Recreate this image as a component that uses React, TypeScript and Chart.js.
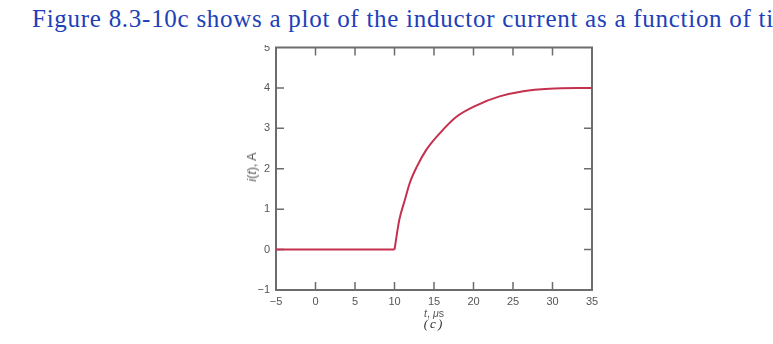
import React, { useEffect, useRef } from 'react';
import { Chart, registerables } from 'chart.js';

Chart.register(...registerables);

// Flat part before the switch (t in µs, i in A)
const flatTimes = [-5, 10];
const flatCurrent = [0, 0];
// Rising part after the switch
const riseTimes = [10, 10.6, 11.3, 11.9, 12.8, 14.0, 15.7, 17.8, 20.4, 23.3, 26.3, 29.6, 35];
const riseCurrent = [0, 0.73, 1.22, 1.63, 2.04, 2.46, 2.87, 3.28, 3.57, 3.79, 3.92, 3.98, 4.0];

const xTickValues = [-5, 0, 5, 10, 15, 20, 25, 30, 35];
const yTickValues = [-1, 0, 1, 2, 3, 4, 5];

const headingText = 'Figure 8.3-10c shows a plot of the inductor current as a function of time.';

const frameColor = '#6c6c6c';
const labelColor = '#555555';
const curveColor = '#c4304e';

const fmt = (v: number) => (v < 0 ? '\u2212' + Math.abs(v) : String(v));

const frameTicksPlugin = {
  id: 'frameTicks',
  beforeDatasetsDraw(chart: any) {
    const { ctx, chartArea, scales } = chart;
    const { left, right, top, bottom } = chartArea;
    const x = scales.x;
    const y = scales.y;
    const len = 8;
    ctx.save();
    ctx.strokeStyle = frameColor;
    ctx.lineWidth = 1.5;
    ctx.beginPath();
    xTickValues.slice(1, -1).forEach((v) => {
      const px = x.getPixelForValue(v);
      ctx.moveTo(px, bottom);
      ctx.lineTo(px, bottom - len);
      ctx.moveTo(px, top);
      ctx.lineTo(px, top + len);
    });
    yTickValues.slice(1, -1).forEach((v) => {
      const py = y.getPixelForValue(v);
      ctx.moveTo(left, py);
      ctx.lineTo(left + len, py);
      ctx.moveTo(right, py);
      ctx.lineTo(right - len, py);
    });
    ctx.stroke();
    ctx.lineWidth = 2;
    ctx.strokeRect(left, top, right - left, bottom - top);
    ctx.restore();
  },
};

export default function App() {
  const canvasRef = useRef<HTMLCanvasElement | null>(null);

  useEffect(() => {
    document.body.style.margin = '0';
    const canvas = canvasRef.current;
    if (!canvas) return;
    const tickFont = { family: "'Liberation Sans', Arial, sans-serif", size: 11 };
    const chart = new Chart(canvas, {
      type: 'line',
      data: {
        datasets: [
          {
            data: flatTimes.map((t, i) => ({ x: t, y: flatCurrent[i] })),
            borderColor: curveColor,
            borderWidth: 2,
            pointRadius: 0,
            tension: 0,
          },
          {
            data: riseTimes.map((t, i) => ({ x: t, y: riseCurrent[i] })),
            borderColor: curveColor,
            borderWidth: 2,
            pointRadius: 0,
            cubicInterpolationMode: 'monotone',
          },
        ],
      },
      options: {
        responsive: false,
        animation: false,
        devicePixelRatio: 1,
        layout: { padding: { left: 0, right: 181, top: 47.5, bottom: 0 } },
        plugins: { legend: { display: false }, tooltip: { enabled: false } },
        scales: {
          x: {
            type: 'linear',
            min: -5,
            max: 35,
            afterFit: (s: any) => {
              s.height = 54;
            },
            afterBuildTicks: (s: any) => {
              s.ticks = xTickValues.map((v) => ({ value: v }));
            },
            grid: { display: false, drawTicks: false },
            border: { display: false },
            ticks: {
              color: labelColor,
              font: tickFont,
              padding: 5,
              autoSkip: false,
              maxRotation: 0,
              callback: (v: any) => fmt(Number(v)),
            },
          },
          y: {
            type: 'linear',
            min: -1,
            max: 5,
            afterFit: (s: any) => {
              s.width = 276;
            },
            afterBuildTicks: (s: any) => {
              s.ticks = yTickValues.map((v) => ({ value: v }));
            },
            grid: { display: false, drawTicks: false },
            border: { display: false },
            ticks: {
              color: labelColor,
              font: tickFont,
              padding: 6,
              autoSkip: false,
              callback: (v: any) => fmt(Number(v)),
            },
          },
        },
      },
      plugins: [frameTicksPlugin],
    } as any);
    return () => chart.destroy();
  }, []);

  return (
    <div style={{ position: 'absolute', left: 0, top: 0, width: 773, height: 344, overflow: 'hidden', background: '#fff' }}>
      <canvas ref={canvasRef} width={773} height={344} style={{ position: 'absolute', left: 0, top: 0, width: 773, height: 344 }} />
      <div
        style={{
          position: 'absolute',
          left: 0,
          top: 0,
          width: 773,
          height: 45,
          background: '#fff',
          overflow: 'hidden',
        }}
      >
        <div
          style={{
            position: 'absolute',
            left: 32,
            top: 6,
            whiteSpace: 'nowrap',
            fontFamily: "'Liberation Serif', 'Times New Roman', serif",
            fontSize: 25,
            lineHeight: '25px',
            letterSpacing: 0.73,
            color: '#2040b8',
          }}
        >
          {headingText}
        </div>
      </div>
      <div
        style={{
          position: 'absolute',
          left: 252,
          top: 167,
          transform: 'translate(-50%, -50%) rotate(-90deg)',
          whiteSpace: 'nowrap',
          fontFamily: "'Liberation Sans', Arial, sans-serif",
          fontSize: 12.5,
          color: labelColor,
        }}
      >
        <i>i</i>(<i>t</i>), A
      </div>
      <div
        style={{
          position: 'absolute',
          left: 434,
          top: 313,
          transform: 'translate(-50%, -50%)',
          whiteSpace: 'nowrap',
          fontFamily: "'Liberation Sans', Arial, sans-serif",
          fontSize: 10.5,
          color: labelColor,
        }}
      >
        <i>t</i>, <i>μ</i>s
      </div>
      <div
        style={{
          position: 'absolute',
          left: 434,
          top: 324,
          transform: 'translate(-50%, -50%)',
          whiteSpace: 'nowrap',
          fontFamily: "'Liberation Serif', 'Times New Roman', serif",
          fontStyle: 'italic',
          fontSize: 13,
          letterSpacing: 2,
          color: '#333',
        }}
      >
        (c)
      </div>
    </div>
  );
}
